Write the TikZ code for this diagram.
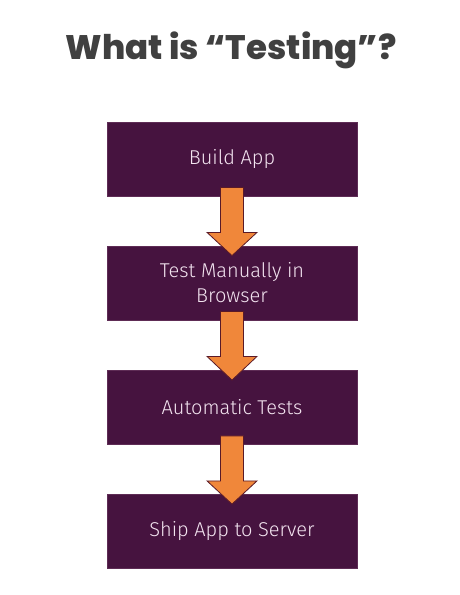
\documentclass[tikz,border=0pt]{standalone}
\usepackage{fontspec}
\usetikzlibrary{calc}
\newfontfamily\headfont{Poppins}[UprightFont=* ExtraBold]
\newfontfamily\labelfont{Fira Sans}[UprightFont=* Light]
\definecolor{headgray}{HTML}{404040}
\definecolor{plum}{HTML}{46133F}
\definecolor{plumedge}{HTML}{5E2C55}
\definecolor{labeltext}{HTML}{F3E4F0}
\definecolor{flowfill}{HTML}{F0873A}
\definecolor{flowedge}{HTML}{5A1A28}
\tikzset{
  stepbox/.style={rectangle, fill=plum, draw=plumedge, line width=0.8pt,
    minimum width=250pt, minimum height=74pt, inner sep=0pt,
    text=labeltext, font=\labelfont\fontsize{20}{25}\selectfont, align=center},
  blockarrow/.style={fill=flowfill, draw=flowedge, line width=0.8pt, line join=miter}
}
\newcommand{\flowarrow}[2]{%
  \draw[blockarrow]
    ($(#1.south)+(-11.5,-9)$) -- ($(#1.south)+(11.5,-9)$) --
    ($(#1.south)+(11.5,36)$) -- ($(#1.south)+(25,36)$) --
    ($(#2.north)+(0,10)$) --
    ($(#1.south)+(-25,36)$) -- ($(#1.south)+(-11.5,36)$) -- cycle;}
\begin{document}
\begin{tikzpicture}[x=1pt,y=-1pt]
  \useasboundingbox[fill=white] (0,0) rectangle (460,595);
  \node[text=headgray, font=\headfont\fontsize{34}{40}\selectfont]
    (title) at (231,50) {What is “Testing”?};
  \node[stepbox] (build) at (232,159) {Build App};
  \node[stepbox] (manual) at (232,283) {Test Manually in\\Browser};
  \node[stepbox] (auto) at (232,407.5) {Automatic Tests};
  \node[stepbox] (ship) at (232,531.5) {Ship App to Server};
  \flowarrow{build}{manual}
  \flowarrow{manual}{auto}
  \flowarrow{auto}{ship}
\end{tikzpicture}
\end{document}
